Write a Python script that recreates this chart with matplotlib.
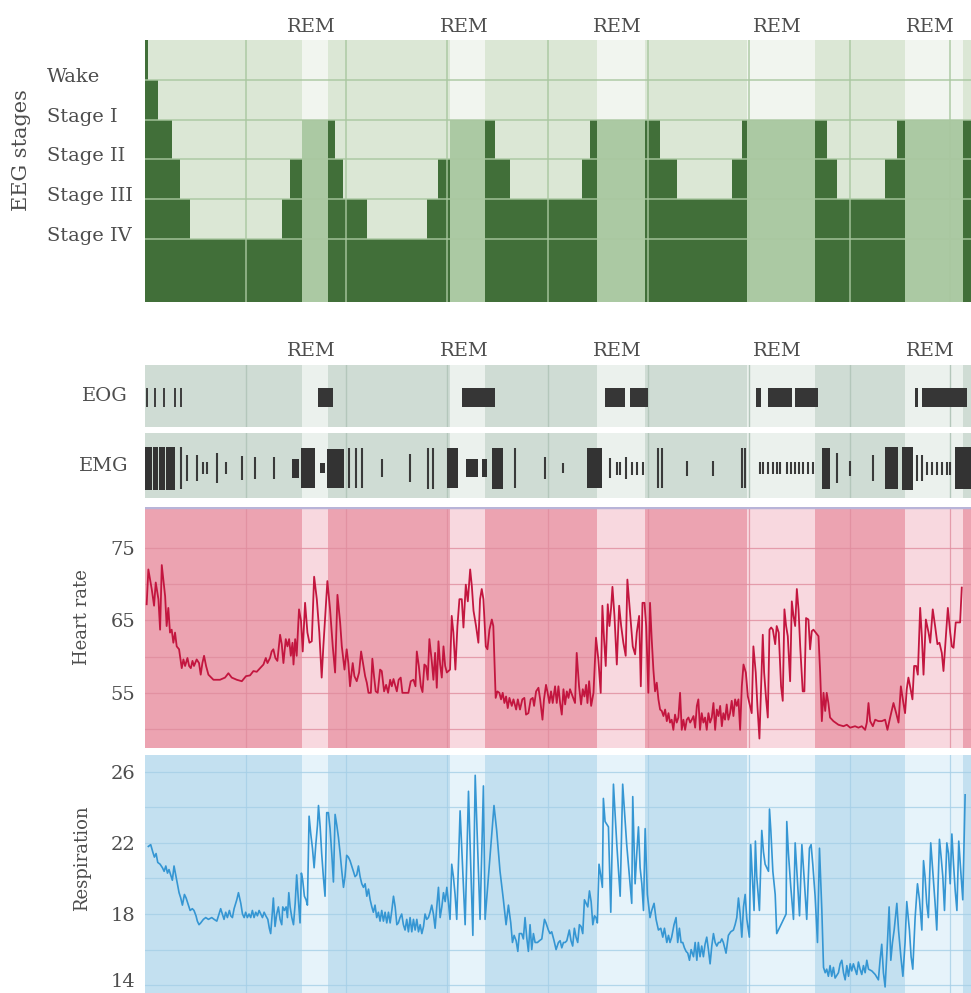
import matplotlib
matplotlib.use("Agg")
import matplotlib.pyplot as plt
from matplotlib.transforms import ScaledTranslation

plt.rcParams["font.family"] = ["DejaVu Serif"]
TEXT = "#4d4d4d"
FS = 14

# ---- data: time axis in minutes after sleep onset ----
T_END = 492.3
HOURS = [60, 120, 180, 240, 300, 360, 420, 480]

stage_names = ["Wake", "Stage I", "Stage II", "Stage III", "Stage IV"]
# hypnogram: segment edges and depth of each segment (None = REM)
eeg_t = [0, 1.8, 7.7, 16.1, 20.9, 26.8, 81.7, 86.4, 93.6, 109.1, 113.2, 118.0,
         132.3, 168.1, 174.6, 181.8, 202.6, 208.6, 217.5, 260.5, 265.2, 269.4,
         298.0, 306.9, 317.1, 349.9, 355.8, 358.8, 399.3, 406.5, 412.4, 441.0,
         448.2, 453.0, 487.5, 492.3]
eeg_depth = [0, 1, 2, 3, 4, 5, 4, 3, None, 2, 3, 4, 5, 4, 3, None,
             2, 3, 4, 3, 2, None, 2, 3, 4, 3, 2, None, 2, 3, 4, 3, 2, None, 2]

# eye movements: isolated deflections and dense bursts
eog_lines = [1.2, 6.0, 11.3, 17.9, 21.5]
eog_burst_start = [103.1, 188.9, 274.2, 289.1, 364.0, 371.3, 387.4, 458.9, 463.1]
eog_burst_end = [112.0, 208.6, 286.1, 299.8, 367.0, 385.6, 401.1, 460.7, 489.9]

# muscle tone: bursts and single twitches (amplitude relative to panel)
emg_block_start = [0.0, 4.8, 8.3, 12.5, 87.6, 93.0, 104.3, 108.5, 180.0, 191.3,
                   200.9, 206.8, 263.4, 403.5, 441.0, 451.2, 482.8]
emg_block_end = [4.2, 7.7, 11.9, 17.9, 91.8, 101.3, 107.3, 118.6, 186.5, 198.5,
                 203.8, 213.4, 272.4, 408.3, 448.8, 457.7, 492.3]
emg_block_amp = [0.66, 0.66, 0.66, 0.66, 0.29, 0.62, 0.16, 0.60, 0.62, 0.28,
                 0.28, 0.63, 0.62, 0.63, 0.64, 0.66, 0.64]
emg_line_pos = [21.5, 25.0, 31.0, 34.6, 37.0, 42.9, 48.3, 57.8, 65.6, 76.9,
                121.6, 125.8, 129.3, 141.3, 157.9, 168.7, 171.6, 220.5, 238.4, 249.1,
                277.1, 281.3, 283.1, 286.7, 290.3, 293.2, 296.8,
                305.7, 308.1, 323.0, 338.5, 355.8, 357.6,
                366.5, 368.3, 371.3, 374.3, 376.7, 378.5, 382.6, 385.0, 387.4, 389.8,
                392.2, 395.1, 398.1,
                412.4, 420.2, 433.9, 460.1, 463.1,
                466.1, 469.1, 472.0, 475.0, 478.0, 479.8]
emg_line_amp = [0.64, 0.41, 0.40, 0.18, 0.18, 0.45, 0.18, 0.36, 0.33, 0.33,
                0.62, 0.62, 0.62, 0.28, 0.44, 0.63, 0.63, 0.62, 0.33, 0.15,
                0.30, 0.20, 0.20, 0.35, 0.20, 0.20, 0.20,
                0.62, 0.62, 0.23, 0.23, 0.62, 0.62,
                0.18, 0.18, 0.18, 0.18, 0.18, 0.18, 0.18, 0.18, 0.18, 0.18,
                0.18, 0.18, 0.18,
                0.46, 0.23, 0.40, 0.40, 0.40,
                0.20, 0.20, 0.20, 0.20, 0.20, 0.20]

hr_min = [1.0, 2.0, 4.0, 5.4, 6.4, 8.0, 9.0, 10.0, 12.0, 12.9,
          13.9, 14.9, 15.9, 16.9, 17.9, 18.9, 20.3, 21.9, 22.9, 23.9,
          25.3, 26.3, 27.3, 28.3, 29.2, 30.8, 32.2, 33.2, 34.2, 35.2,
          36.4, 37.8, 40.8, 44.7, 47.7, 49.7, 51.7, 54.7, 57.7, 60.2,
          62.6, 64.6, 66.6, 68.6, 70.6, 72.0, 73.0, 74.5, 75.5, 76.5,
          77.7, 78.9, 80.5, 81.5, 82.5, 83.9, 84.9, 85.9, 86.9, 87.9,
          88.5, 89.5, 90.4, 91.8, 93.0, 94.0, 95.4, 96.8, 98.0, 99.4,
          100.8, 102.4, 103.9, 105.3, 106.3, 108.7, 110.3, 111.9, 113.3, 114.7,
          116.3, 117.3, 118.9, 120.2, 121.2, 122.2, 123.8, 124.8, 126.2, 127.6,
          128.8, 130.2, 131.2, 132.2, 133.2, 134.6, 135.5, 136.5, 137.5, 138.7,
          140.1, 141.1, 142.5, 143.7, 144.9, 146.1, 147.1, 148.1, 149.3, 150.1,
          151.2, 152.4, 153.4, 157.0, 158.4, 160.0, 161.2, 162.0, 163.2, 164.4,
          165.4, 166.5, 167.5, 168.5, 169.5, 170.9, 171.9, 172.9, 173.9, 174.9,
          175.9, 176.9, 177.9, 178.9, 179.9, 181.8, 182.8, 183.8, 185.0, 186.2,
          187.4, 188.8, 189.8, 191.2, 192.4, 193.8, 194.8, 195.8, 197.3, 198.7,
          199.7, 200.7, 201.7, 203.1, 204.1, 205.3, 206.7, 207.6, 209.0, 210.0,
          211.2, 212.2, 213.2, 214.2, 215.2, 216.2, 217.2, 218.6, 219.6, 221.2,
          222.2, 223.5, 224.9, 226.1, 227.1, 228.5, 229.9, 231.1, 231.9, 233.1,
          234.5, 235.5, 236.9, 237.8, 239.0, 240.0, 241.0, 242.0, 243.0, 244.4,
          245.4, 246.4, 247.4, 248.4, 249.4, 250.4, 251.4, 252.4, 253.3, 254.9,
          256.3, 257.3, 258.7, 259.9, 260.9, 261.9, 262.9, 263.7, 264.7, 265.9,
          267.3, 268.8, 270.2, 271.6, 272.6, 273.6, 274.6, 275.8, 276.8, 277.8,
          278.6, 279.8, 281.2, 282.6, 283.8, 285.1, 286.5, 287.5, 289.1, 290.7,
          292.1, 293.1, 294.5, 295.5, 296.5, 297.7, 298.7, 300.0, 301.0, 302.0,
          303.0, 304.0, 305.0, 306.0, 307.0, 308.0, 309.0, 310.0, 311.0, 312.0,
          312.9, 313.9, 314.9, 315.9, 316.9, 317.9, 318.9, 319.9, 320.9, 321.9,
          322.9, 323.9, 324.9, 325.9, 326.9, 327.9, 328.9, 329.8, 330.8, 331.8,
          332.8, 333.8, 334.8, 335.8, 336.8, 337.8, 338.8, 339.8, 340.8, 341.8,
          342.8, 343.8, 344.7, 345.7, 346.7, 347.7, 348.7, 349.7, 350.7, 351.7,
          352.7, 353.7, 354.7, 355.7, 356.7, 358.1, 359.3, 360.6, 361.6, 362.6,
          364.0, 365.0, 366.2, 367.2, 368.2, 369.0, 370.2, 371.2, 372.2, 373.2,
          374.2, 375.6, 376.5, 377.7, 379.1, 380.1, 381.1, 382.1, 383.1, 384.5,
          385.5, 386.5, 387.5, 388.5, 389.5, 390.5, 392.0, 393.0, 394.0, 395.4,
          396.4, 397.4, 398.4, 401.4, 402.4, 403.4, 404.4, 405.4, 406.3, 407.3,
          408.3, 410.3, 413.3, 416.3, 418.3, 420.3, 423.2, 425.2, 427.2, 429.2,
          430.2, 431.2, 432.2, 433.8, 435.2, 437.1, 439.1, 441.1, 442.5, 444.1,
          446.1, 447.7, 449.1, 450.5, 452.0, 453.0, 454.0, 455.0, 456.0, 457.4,
          458.4, 459.6, 460.6, 462.0, 463.0, 464.0, 465.4, 467.0, 468.0, 469.5,
          470.9, 472.3, 473.5, 474.9, 475.9, 476.9, 478.5, 479.9, 480.9, 481.9,
          483.2, 485.8, 486.8]
hr_bpm = [67.2, 72.0, 69.3, 67.0, 70.2, 67.9, 63.7, 72.6, 68.3, 64.2,
          66.7, 63.3, 63.7, 61.9, 63.3, 61.4, 61.0, 58.4, 59.6, 58.7,
          59.8, 58.7, 58.4, 59.4, 58.7, 59.6, 59.1, 57.5, 59.1, 60.1,
          58.7, 57.5, 56.8, 56.8, 57.1, 57.7, 57.1, 56.8, 56.6, 57.3,
          57.4, 58.0, 57.9, 58.4, 58.9, 59.8, 59.1, 59.8, 60.7, 61.0,
          59.8, 59.4, 63.0, 61.7, 59.1, 62.4, 61.4, 62.4, 60.1, 61.9,
          58.9, 62.4, 60.1, 66.5, 64.9, 60.7, 67.4, 63.3, 61.9, 62.1,
          71.0, 67.9, 63.3, 57.1, 61.4, 70.4, 66.5, 61.4, 57.8, 68.5,
          64.7, 61.4, 58.2, 61.0, 59.1, 55.9, 59.1, 57.3, 56.6, 57.8,
          60.7, 58.7, 57.3, 56.4, 55.0, 55.0, 59.7, 57.3, 55.2, 55.0,
          58.2, 58.0, 55.2, 56.1, 55.0, 56.8, 55.9, 56.9, 55.9, 55.2,
          56.8, 57.1, 55.0, 55.0, 56.6, 56.8, 55.9, 60.7, 58.7, 55.9,
          55.1, 58.9, 58.7, 56.8, 62.4, 59.4, 56.8, 60.5, 55.7, 62.1,
          58.9, 57.1, 61.4, 58.7, 57.8, 58.2, 65.6, 63.3, 58.2, 64.2,
          67.9, 67.9, 64.0, 69.9, 67.6, 72.0, 69.7, 66.3, 64.2, 61.9,
          67.9, 69.3, 67.9, 61.4, 61.0, 63.7, 65.1, 64.2, 54.3, 55.2,
          55.0, 54.1, 55.0, 53.6, 54.5, 52.9, 54.3, 53.2, 54.1, 52.7,
          54.1, 52.7, 54.1, 54.3, 52.0, 52.2, 54.1, 54.3, 53.2, 55.2,
          55.7, 54.1, 51.3, 54.1, 56.1, 55.0, 53.6, 55.2, 53.6, 55.9,
          53.6, 55.9, 53.6, 52.0, 55.5, 53.4, 55.2, 54.3, 55.5, 54.5,
          53.6, 60.5, 55.9, 53.4, 55.5, 54.5, 56.1, 53.6, 56.6, 53.2,
          55.0, 62.6, 59.6, 55.0, 67.0, 62.4, 58.7, 67.2, 64.2, 66.7,
          69.6, 65.6, 58.9, 67.0, 64.2, 61.9, 60.1, 70.6, 66.0, 61.4,
          60.3, 63.3, 65.6, 55.9, 67.4, 67.4, 64.2, 55.0, 67.4, 62.4,
          58.2, 55.2, 56.4, 54.1, 52.7, 52.5, 51.8, 52.7, 51.1, 52.2,
          50.9, 51.3, 49.9, 52.0, 50.9, 51.6, 55.0, 49.9, 51.3, 49.9,
          51.3, 51.6, 50.9, 51.3, 51.8, 50.2, 53.2, 54.1, 49.9, 52.2,
          50.9, 51.6, 49.9, 52.2, 50.9, 51.6, 53.6, 49.9, 52.7, 51.8,
          53.2, 50.4, 52.2, 51.3, 53.4, 51.3, 52.2, 53.9, 51.8, 54.1,
          53.2, 54.1, 49.9, 55.9, 58.9, 57.8, 54.5, 53.2, 52.2, 61.4,
          57.8, 53.2, 48.7, 55.9, 63.0, 57.8, 54.1, 51.6, 63.7, 64.0,
          63.7, 61.7, 64.2, 63.3, 55.9, 53.9, 66.5, 64.2, 62.8, 56.6,
          67.6, 65.6, 64.2, 69.3, 66.5, 61.4, 55.2, 55.2, 65.3, 65.1,
          61.0, 63.5, 63.7, 62.8, 57.8, 51.1, 55.0, 52.5, 55.0, 53.6,
          51.6, 51.1, 50.6, 50.4, 50.6, 50.2, 50.4, 50.2, 50.4, 49.9,
          50.9, 53.6, 51.1, 50.4, 51.3, 51.1, 51.1, 51.3, 49.9, 51.6,
          53.6, 52.2, 50.9, 55.9, 53.6, 52.2, 55.5, 57.1, 55.9, 54.1,
          58.7, 58.7, 57.5, 66.7, 62.8, 57.5, 65.1, 63.3, 61.9, 66.5,
          64.2, 61.7, 61.9, 60.5, 58.0, 61.4, 66.7, 63.3, 61.4, 61.2,
          64.7, 64.7, 69.5]

resp_min = [2.0, 3.4, 4.6, 5.6, 6.6, 7.6, 9.0, 10.4, 11.4, 12.4,
            13.4, 14.3, 15.3, 16.3, 17.3, 18.3, 19.3, 20.3, 21.3, 22.3,
            23.5, 24.5, 25.5, 26.9, 28.2, 29.2, 30.4, 31.2, 32.2, 33.2,
            34.8, 36.2, 37.8, 39.8, 41.2, 42.8, 44.1, 45.1, 46.1, 47.1,
            48.1, 49.1, 50.3, 51.1, 52.1, 53.1, 54.7, 55.7, 57.1, 58.1,
            59.1, 60.0, 61.0, 62.0, 63.0, 64.0, 65.0, 66.0, 67.0, 68.0,
            69.0, 70.0, 71.0, 72.0, 73.2, 74.1, 74.9, 75.9, 76.5, 77.5,
            78.5, 79.5, 80.5, 81.5, 82.1, 83.1, 84.1, 84.9, 85.7, 86.5,
            87.5, 88.5, 89.5, 90.4, 91.4, 92.4, 93.2, 94.0, 95.0, 96.0,
            96.8, 97.8, 98.8, 99.8, 100.8, 101.8, 102.8, 103.4, 104.4, 105.3,
            106.3, 107.3, 108.3, 109.3, 110.3, 111.3, 112.3, 113.3, 114.3, 115.3,
            116.3, 117.3, 118.3, 119.2, 120.2, 121.2, 122.2, 123.2, 124.2, 125.2,
            126.2, 127.2, 128.2, 129.2, 130.2, 131.2, 132.2, 133.2, 134.2, 135.2,
            136.1, 137.1, 138.1, 139.1, 140.1, 141.1, 142.1, 143.1, 144.1, 145.1,
            146.1, 147.1, 148.1, 149.1, 150.1, 151.0, 152.0, 153.0, 154.0, 155.0,
            156.0, 157.0, 158.0, 159.0, 160.0, 161.0, 162.0, 163.0, 164.0, 165.0,
            166.0, 166.9, 167.9, 168.9, 169.9, 170.9, 171.9, 172.9, 173.9, 174.9,
            175.9, 176.9, 177.9, 178.9, 179.9, 180.9, 181.8, 182.8, 183.8, 184.8,
            185.8, 187.8, 190.8, 192.8, 195.4, 196.8, 199.7, 201.7, 202.7, 208.0,
            209.6, 211.6, 213.6, 215.2, 216.6, 218.0, 219.0, 220.0, 221.2, 222.2,
            223.1, 224.5, 225.5, 226.5, 227.5, 228.5, 229.5, 230.5, 231.5, 232.5,
            233.9, 235.1, 236.5, 238.1, 239.0, 240.4, 241.4, 242.4, 243.8, 245.0,
            246.4, 247.4, 248.4, 249.4, 250.4, 251.4, 252.9, 253.9, 254.9, 255.9,
            256.9, 257.9, 258.9, 259.9, 260.9, 261.9, 262.9, 263.9, 264.9, 265.9,
            266.9, 267.9, 268.8, 269.6, 270.6, 271.6, 272.6, 273.2, 274.2, 276.2,
            277.6, 279.2, 281.2, 283.2, 284.7, 287.1, 290.1, 290.7, 292.1, 293.1,
            294.1, 295.1, 296.1, 297.1, 298.1, 299.4, 301.0, 302.0, 303.4, 304.6,
            306.0, 307.4, 308.6, 309.6, 311.0, 312.0, 312.9, 313.9, 315.3, 316.5,
            317.5, 318.5, 319.5, 320.5, 321.5, 322.5, 323.5, 324.5, 325.5, 326.9,
            327.9, 328.9, 329.8, 330.8, 331.8, 332.8, 333.8, 334.8, 335.8, 336.8,
            337.8, 338.8, 339.8, 340.8, 341.8, 342.8, 343.8, 344.7, 346.3, 347.7,
            349.1, 350.7, 351.7, 352.7, 353.7, 354.7, 355.7, 356.7, 357.7, 358.7,
            360.2, 361.0, 362.2, 363.0, 363.8, 364.6, 366.2, 367.6, 368.6, 369.6,
            371.6, 372.2, 373.0, 374.2, 375.6, 376.5, 382.1, 382.5, 383.5, 384.9,
            386.5, 387.5, 388.5, 390.1, 391.5, 392.8, 394.4, 396.0, 397.0, 398.0,
            399.4, 400.8, 402.0, 403.4, 404.4, 405.4, 406.3, 407.3, 408.3, 409.3,
            410.3, 411.3, 413.3, 414.3, 415.3, 416.3, 417.3, 418.3, 419.3, 420.3,
            421.2, 422.2, 423.2, 424.2, 425.2, 426.2, 427.2, 428.2, 429.2, 430.2,
            431.2, 433.2, 435.2, 437.1, 438.1, 439.1, 440.1, 441.1, 442.5, 443.5,
            444.5, 445.5, 446.5, 448.1, 449.1, 450.5, 451.7, 453.0, 454.0, 455.6,
            456.6, 457.6, 459.0, 460.4, 461.6, 463.0, 464.0, 464.9, 465.9, 466.9,
            468.3, 469.5, 470.9, 471.9, 473.5, 474.5, 475.5, 476.5, 477.9, 478.9,
            479.9, 480.9, 481.9, 482.9, 483.9, 485.0, 486.2, 487.4, 488.8]
resp_rate = [21.8, 21.9, 21.5, 21.2, 21.4, 20.9, 20.8, 20.6, 20.4, 20.7,
             20.3, 20.5, 20.2, 19.9, 20.7, 20.2, 19.7, 19.2, 18.9, 18.5,
             19.1, 18.9, 18.6, 18.2, 18.3, 18.2, 17.9, 17.6, 17.4, 17.5,
             17.7, 17.8, 17.7, 17.8, 17.7, 17.6, 18.0, 18.3, 18.0, 17.7,
             18.1, 17.8, 18.2, 17.9, 17.8, 18.3, 18.8, 19.2, 18.6, 18.0,
             17.8, 18.1, 17.8, 18.0, 17.8, 18.2, 17.8, 18.1, 17.9, 18.2,
             18.0, 17.8, 18.1, 17.9, 17.7, 17.2, 16.9, 18.1, 18.9, 17.3,
             18.0, 18.4, 17.7, 17.4, 18.4, 18.2, 18.4, 17.8, 19.2, 18.4,
             17.8, 17.4, 18.6, 20.2, 18.8, 17.5, 20.3, 19.9, 19.0, 18.8,
             18.5, 23.5, 22.5, 21.7, 20.6, 21.9, 23.0, 24.1, 22.9, 21.4,
             20.1, 19.0, 23.7, 23.7, 22.8, 21.4, 19.8, 23.6, 23.0, 22.3,
             21.4, 20.4, 19.5, 20.1, 21.3, 21.2, 21.0, 20.7, 20.4, 20.1,
             20.2, 20.7, 20.1, 19.7, 19.5, 19.7, 19.0, 19.4, 18.8, 18.4,
             18.1, 18.5, 17.8, 18.1, 17.6, 18.2, 17.6, 18.1, 17.5, 18.1,
             17.5, 18.2, 19.0, 18.4, 17.4, 17.5, 17.8, 18.0, 17.4, 17.1,
             17.7, 17.0, 17.8, 17.0, 17.7, 17.1, 17.7, 17.0, 17.4, 16.9,
             17.3, 18.0, 17.7, 17.8, 18.1, 18.5, 18.0, 17.2, 18.4, 19.5,
             17.8, 18.4, 19.2, 18.7, 19.5, 18.6, 17.7, 20.8, 20.1, 19.1,
             17.7, 23.8, 17.4, 24.9, 16.8, 25.8, 17.7, 25.2, 17.7, 24.1,
             22.7, 20.4, 18.8, 17.4, 18.5, 17.5, 16.4, 16.8, 16.5, 15.9,
             16.9, 16.9, 16.6, 17.8, 16.7, 15.9, 17.4, 16.0, 16.9, 16.4,
             16.4, 16.5, 16.6, 17.7, 17.5, 17.1, 16.9, 17.0, 16.5, 16.0,
             16.4, 16.5, 16.1, 16.4, 16.4, 16.5, 17.1, 16.5, 16.2, 17.2,
             16.7, 16.4, 17.4, 17.3, 16.9, 18.8, 18.6, 18.4, 19.3, 18.7,
             17.4, 17.9, 17.8, 17.5, 20.8, 20.2, 19.5, 24.5, 23.2, 22.9,
             18.1, 25.3, 21.9, 19.0, 25.3, 21.9, 18.6, 24.6, 19.7, 21.4,
             22.9, 20.6, 19.7, 18.2, 22.8, 19.1, 17.8, 18.2, 18.6, 17.7,
             17.1, 17.2, 16.7, 17.2, 16.4, 16.8, 16.4, 16.7, 17.4, 17.8,
             16.4, 17.2, 16.4, 16.4, 16.1, 15.9, 15.8, 15.4, 16.0, 15.6,
             16.4, 15.4, 16.4, 15.6, 16.2, 15.6, 16.3, 16.7, 16.0, 15.2,
             16.2, 16.9, 16.4, 16.2, 16.4, 16.4, 16.6, 16.4, 15.8, 16.8,
             17.0, 17.1, 17.4, 17.8, 18.9, 18.0, 16.7, 18.4, 19.1, 17.7,
             16.7, 21.9, 19.7, 18.2, 22.1, 20.1, 18.2, 22.7, 21.5, 20.8,
             20.4, 23.9, 22.7, 20.4, 19.1, 16.9, 18.0, 23.2, 21.4, 19.5,
             17.7, 22.0, 20.4, 17.9, 21.9, 20.1, 17.7, 21.7, 21.9, 20.8,
             19.0, 16.4, 21.7, 18.2, 15.0, 14.7, 14.9, 14.5, 15.1, 14.5,
             15.0, 14.4, 14.7, 15.2, 15.4, 14.7, 14.3, 15.1, 14.5, 15.2,
             14.8, 15.2, 14.9, 14.6, 15.3, 14.9, 14.6, 15.1, 14.7, 15.4,
             14.9, 14.8, 14.6, 14.3, 15.4, 16.3, 14.7, 13.9, 16.4, 18.4,
             15.4, 16.4, 17.1, 18.6, 17.1, 15.6, 14.5, 16.4, 18.7, 17.1,
             15.6, 14.9, 17.8, 19.7, 18.8, 17.1, 21.0, 20.1, 18.6, 17.8,
             22.0, 20.4, 18.6, 17.1, 22.2, 21.2, 20.1, 18.2, 22.0, 21.4,
             19.7, 22.5, 20.8, 19.3, 18.2, 22.1, 20.4, 18.8, 24.7]

rem_spans = [(eeg_t[i], eeg_t[i + 1]) for i, d in enumerate(eeg_depth) if d is None]

# ---- layout (pixel boxes of the panels) ----
W, H = 971, 993
fig = plt.figure(figsize=(W / 100, H / 100), dpi=100)


def panel(top, bottom):
    ax = fig.add_axes([145 / W, 1 - bottom / H, (W - 145) / W, (bottom - top) / H])
    ax.set_xlim(0, T_END)
    for s in ax.spines.values():
        s.set_visible(False)
    ax.set_xticks([])
    ax.tick_params(length=0)
    return ax


def shade(ax, base, rem):
    ax.set_facecolor(base)
    for a, b in rem_spans:
        ax.axvspan(a, b, color=rem, lw=0, zorder=0)


def rem_labels(ax, dy):
    for a, b in rem_spans:
        ax.annotate("REM", xy=((a + b) / 2 - 2, 1), xycoords=("data", "axes fraction"),
                    xytext=(0, dy), textcoords="offset pixels", ha="center",
                    va="center", fontsize=FS, color=TEXT)


# ---- EEG hypnogram ----
ax = panel(40, 302)
BOTTOM = 6.58
ax.set_ylim(BOTTOM, 0)
ax.set_yticks([])
ax.set_facecolor("#dbe7d5")
for i, d in enumerate(eeg_depth):
    t0, t1 = eeg_t[i], eeg_t[i + 1]
    if d is None:
        ax.fill_between([t0, t1], 0, 2, color="#f1f5ef", lw=0, zorder=1)
        ax.fill_between([t0, t1], 2, BOTTOM, color="#abc9a3", lw=0, zorder=1)
    else:
        ax.fill_between([t0, t1], d, BOTTOM, color="#416f39", lw=0, zorder=1)
for lvl in range(1, 6):
    ax.axhline(lvl, color="#a9c7a0", lw=1.2, alpha=0.85, zorder=2)
for h in HOURS:
    ax.axvline(h, color="#a9c7a0", lw=1.2, alpha=0.85, zorder=2)
for lvl, name in enumerate(stage_names, start=1):
    ax.annotate(name, xy=(0, lvl), xycoords=("axes fraction", "data"),
                xytext=(-98, 3), textcoords="offset pixels", ha="left",
                va="center", fontsize=FS, color=TEXT)
rem_labels(ax, 13)
fig.text(22 / W, 1 - 150 / H, "EEG stages", rotation=90, ha="center",
         va="center", fontsize=15, color=TEXT)

# ---- EOG ----
ax = panel(365, 427)
ax.set_ylim(-1, 1)
ax.set_yticks([])
shade(ax, "#cfdcd4", "#ebf1ed")
for h in HOURS:
    ax.axvline(h, color="#b4c7bb", lw=1, zorder=1)
ax.vlines(eog_lines, -0.35, 0.26, color="#3c3c3c", lw=1.4, zorder=3)
ax.bar(eog_burst_start, 0.61,
       width=[e - s for s, e in zip(eog_burst_start, eog_burst_end)],
       bottom=-0.35, align="edge", color="#363636", lw=0, zorder=3)
ax.annotate("EOG", xy=(0, 0), xycoords=("axes fraction", "data"), xytext=(-17, 0),
            textcoords="offset pixels", ha="right", va="center", fontsize=FS,
            color=TEXT)
rem_labels(ax, 14)

# ---- EMG ----
ax = panel(433, 498)
ax.set_ylim(-1, 1)
ax.set_yticks([])
shade(ax, "#cfdcd4", "#ebf1ed")
for h in HOURS:
    ax.axvline(h, color="#b4c7bb", lw=1, zorder=1)
mid = -0.08
ax.bar(emg_block_start, [2 * a for a in emg_block_amp],
       width=[e - s for s, e in zip(emg_block_start, emg_block_end)],
       bottom=[mid - a for a in emg_block_amp], align="edge", color="#333333",
       lw=0, zorder=3)
ax.vlines(emg_line_pos, [mid - a for a in emg_line_amp],
          [mid + a for a in emg_line_amp], color="#3a3a3a", lw=1.5, zorder=3)
ax.annotate("EMG", xy=(0, 0), xycoords=("axes fraction", "data"), xytext=(-17, 0),
            textcoords="offset pixels", ha="right", va="center", fontsize=FS,
            color=TEXT)

# ---- heart rate ----
ax = panel(507, 748)
ax.set_ylim(47.4, 80.6)
shade(ax, "#eca3b1", "#f8d8df")
for v in [50, 55, 60, 65, 70, 75]:
    ax.axhline(v, color="#e08d9e", lw=0.9, alpha=0.8, zorder=1)
for h in HOURS:
    ax.axvline(h, color="#e08d9e", lw=0.9, alpha=0.8, zorder=1)
ax.axhline(80.6, color="#b8b4d8", lw=2.5, zorder=2)
ax.plot(hr_min, hr_bpm, color="#c3163f", lw=1.3, zorder=3)
ax.set_yticks([55, 65, 75])
ax.tick_params(axis="y", labelsize=FS, labelcolor=TEXT, pad=7)
fig.text(82 / W, 1 - 617 / H, "Heart rate", rotation=90, ha="center",
         va="center", fontsize=13, color=TEXT)

# ---- respiration ----
ax = panel(755, 993)
ax.set_ylim(13.56, 26.94)
shade(ax, "#c3e0f0", "#e6f3fa")
for v in [14, 16, 18, 20, 22, 24, 26]:
    ax.axhline(v, color="#a6cfe7", lw=0.9, alpha=0.8, zorder=1)
for h in HOURS:
    ax.axvline(h, color="#a6cfe7", lw=0.9, alpha=0.8, zorder=1)
ax.plot(resp_min, resp_rate, color="#3596d3", lw=1.2, zorder=3)
ax.set_yticks([14, 18, 22, 26])
ax.tick_params(axis="y", labelsize=FS, labelcolor=TEXT, pad=7)
# lift the lowest label slightly so it stays inside the figure
low = ax.get_yticklabels()[0]
low.set_transform(low.get_transform() + ScaledTranslation(0, 4 / 72, fig.dpi_scale_trans))
fig.text(82 / W, 1 - 858 / H, "Respiration", rotation=90, ha="center",
         va="center", fontsize=13, color=TEXT)

fig.savefig("out.png", dpi=100)
